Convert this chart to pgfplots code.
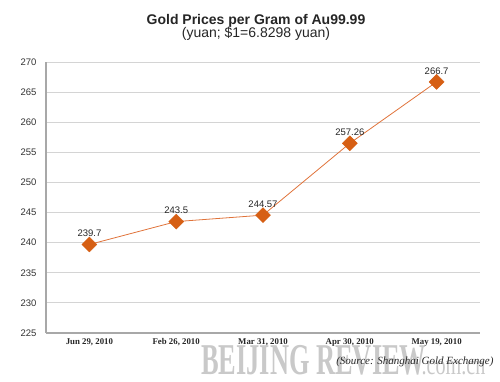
\documentclass[border=0pt]{standalone}
\usepackage{pgfplots}
\pgfplotsset{compat=1.18}
\usepackage{fontspec}
\setmainfont{Liberation Sans}
\newfontfamily\serif{Liberation Serif}
\definecolor{mk}{HTML}{D65F14}
\definecolor{ln}{HTML}{E0733A}
\definecolor{gridc}{HTML}{D4D4D4}
\definecolor{axc}{HTML}{A8A8A8}
\begin{document}
\begin{tikzpicture}[x=1pt,y=1pt]
\useasboundingbox (0,0) rectangle (500,382);
\node[font=\bfseries\fontsize{14}{16}\selectfont, text=black!85] at (256,361) {Gold Prices per Gram of Au99.99};
\node[font=\fontsize{14}{16}\selectfont, text=black!85] at (256,348) {(yuan; \$1=6.8298 yuan)};
\begin{axis}[
  at={(46pt,49pt)}, anchor=south west,
  scale only axis, width=434pt, height=271pt,
  xmin=-0.5, xmax=4.5, ymin=225, ymax=270,
  ytick={225,230,...,270},
  xtick={0,1,2,3,4},
  xticklabels={{Jun 29, 2010}, {Feb 26, 2010}, {Mar 31, 2010}, {Apr 30, 2010}, {May 19, 2010}},
  xticklabel style={font=\serif\bfseries\fontsize{8.8}{10}\selectfont, text=black!85},
  yticklabel style={font=\fontsize{9.5}{10}\selectfont, text=black!80},
  /pgf/number format/assume math mode=true,
  axis x line*=bottom, axis y line*=left,
  axis line style={axc, line width=1.2pt},
  ymajorgrids, grid style={gridc, line width=0.8pt},
  major tick length=0pt,
  tick style={draw=none},
  xticklabel shift=2pt, yticklabel shift=6pt,
  clip=false,
]
\addplot[ln, line width=0.8pt, mark=square*, mark size=5.3pt,
  mark options={fill=mk, draw=mk, line width=0.4pt, rotate=45},
  nodes near coords, point meta=explicit symbolic,
  every node near coord/.style={font=\fontsize{9.5}{10}\selectfont, text=black!85, anchor=south, yshift=4pt}]
  table[meta=lab] {
x y lab
0 239.7 239.7
1 243.5 243.5
2 244.57 244.57
3 256.5 257.26
4 266.7 266.7
};
\end{axis}
\node[font=\serif\bfseries\fontsize{44}{44}\selectfont, text=gray!50, opacity=0.85, xscale=0.6, anchor=base west] at (199,7) {BEIJING REVIEW};
\node[font=\serif\fontsize{28}{28}\selectfont, text=gray!50, opacity=0.85, xscale=0.72, anchor=base west] at (419,7) {.com.cn};
\node[font=\serif\itshape\fontsize{11}{12}\selectfont, text=black!85, anchor=base east] at (497,17) {(Source: Shanghai Gold Exchange)};
\end{tikzpicture}
\end{document}
